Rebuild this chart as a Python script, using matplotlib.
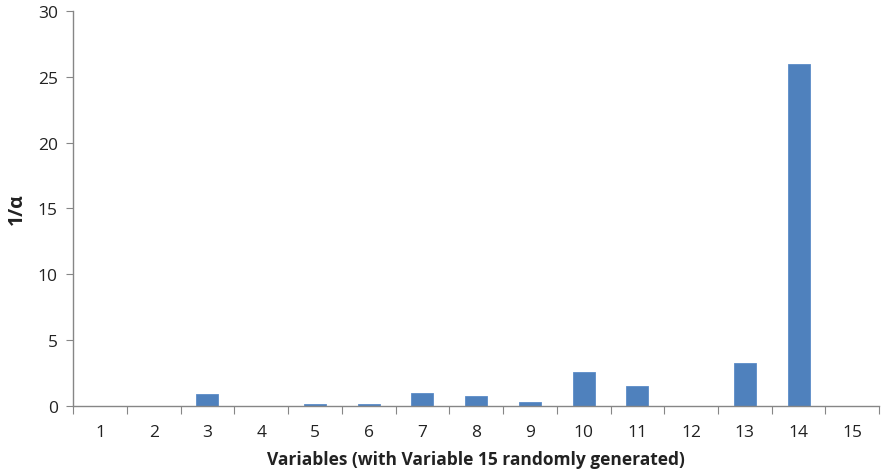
import numpy as np
import matplotlib.pyplot as plt
from matplotlib.ticker import FixedLocator

plt.rcParams['font.family'] = ['Open Sans', 'DejaVu Sans']

# data
variables = list(range(1, 16))
inv_alpha = [0, 0, 0.88, 0, 0.13, 0.12, 1.0, 0.74, 0.3, 2.57, 1.5, 0, 3.26, 26.0, 0]

fig = plt.figure(figsize=(8.81, 4.77), dpi=100)
ax = fig.add_axes([0.083, 0.147, 0.915, 0.828])

ax.bar(variables, inv_alpha, width=0.41, color='#4F81BD', edgecolor='#5B8CC8', linewidth=0.6)

ax.set_xlim(0.5, 15.5)
ax.set_ylim(0, 30)
ax.set_yticks(np.arange(0, 31, 5))

# tick marks between categories, labels at centres
ax.xaxis.set_major_locator(FixedLocator(np.arange(0.5, 16, 1)))
ax.xaxis.set_major_formatter(plt.NullFormatter())
ax.xaxis.set_minor_locator(FixedLocator(variables))
ax.set_xticklabels([str(v) for v in variables], minor=True)
ax.tick_params(axis='x', which='major', length=6, color='#868686', direction='out')
ax.tick_params(axis='x', which='minor', length=0, pad=13, labelsize=12.5, labelcolor='#222222')
ax.tick_params(axis='y', length=5, color='#868686', labelsize=12.5, labelcolor='#222222', pad=6)

for s in ['top', 'right']:
    ax.spines[s].set_visible(False)
for s in ['left', 'bottom']:
    ax.spines[s].set_color('#868686')
    ax.spines[s].set_linewidth(1)

ax.set_xlabel('Variables (with Variable 15 randomly generated)', fontsize=12.5, fontweight='bold', labelpad=7, color='#222222')
ax.set_ylabel('1/α', fontsize=14, fontweight='bold', labelpad=8, color='#222222')

fig.savefig('out.png', dpi=100)
